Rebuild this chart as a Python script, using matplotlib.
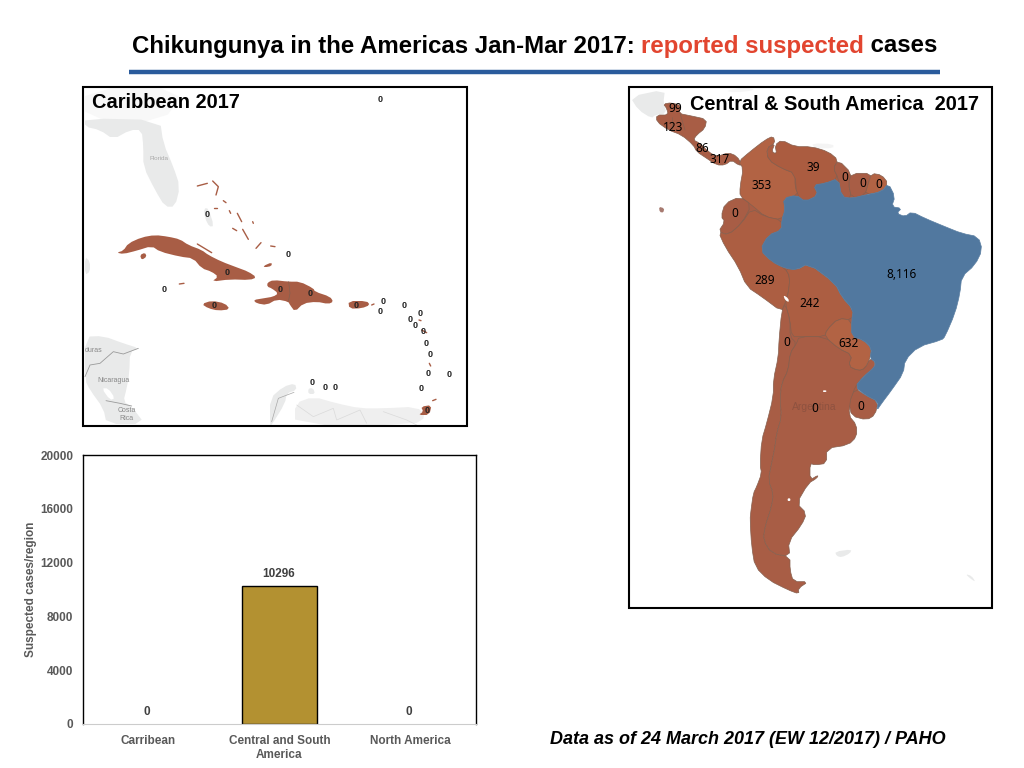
"""
Chikungunya in the Americas slide: two hand traced maps and one bar chart.
Map outlines are traced from 3x crops of the slide, see the crop helpers.
"""
import matplotlib
matplotlib.use('Agg')

import matplotlib.pyplot as plt
from matplotlib.patches import Polygon, Rectangle

plt.rcParams['font.family'] = ['Liberation Sans', 'DejaVu Sans']

# bar chart data
regions = ['Carribean', 'Central and South\nAmerica', 'North America']
region_cases = [0, 10296, 0]
y_ticks = [0, 4000, 8000, 12000, 16000, 20000]

# map labels
sa_labels = ['99', '123', '86', '317', '353', '39', '0', '0', '0', '0',
             '8,116', '289', '242', '0', '632']
sa_label_xy = [(150, 85), (145, 142), (232, 207), (285, 238), (410, 317), (565, 262),
               (659, 292), (713, 310), (762, 314), (330, 400), (830, 583), (420, 600),
               (555, 671), (485, 789), (670, 790)]
sa_labels_low = ['0', '0']
sa_label_low_xy = [(570, 205), (708, 200)]
carib_zero_west = [(381, 403), (442, 577), (252, 630), (402, 678)]
carib_zero_east = [(55, 73), (31, 179), (120, 191), (259, 225), (340, 216), (331, 245),
                   (402, 225), (451, 249), (419, 269), (435, 287), (459, 305), (468, 339),
                   (481, 373), (473, 430), (537, 433), (454, 475), (472, 542), (125, 457),
                   (166, 472), (194, 471)]

RUST = '#A85D45'
RUST_LIGHT = '#B26344'
BLUE = '#51789F'
GREY_LAND = '#E9EAEA'
BORDER = '#86604F'


def crop(x0, y0, pts):
    """Crop coordinates (3x) to slide pixels."""
    return [(x0 + x / 3, y0 + y / 3) for x, y in pts]


def sa(top, low=()):
    """South America outline from the upper and the lower crop."""
    return crop(625, 80, top) + crop(625, 340, low)


def west(pts):
    return crop(80, 80, pts)


def east(pts):
    return crop(270, 230, pts)


def smooth(pts):
    """One pass of corner cutting, takes the edge off the traced outlines."""
    out = []
    for i, (x0, y0) in enumerate(pts):
        x1, y1 = pts[(i + 1) % len(pts)]
        out.append((0.75 * x0 + 0.25 * x1, 0.75 * y0 + 0.25 * y1))
        out.append((0.25 * x0 + 0.75 * x1, 0.25 * y0 + 0.75 * y1))
    return out


fig = plt.figure(figsize=(10.24, 7.68), dpi=100)
ax = fig.add_axes([0, 0, 1, 1])
ax.set_xlim(0, 1024)
ax.set_ylim(768, 0)
ax.axis('off')


def land(pts, color=RUST, edge=BORDER, lw=0.5, z=2):
    ax.add_patch(Polygon(smooth(pts), closed=True, facecolor=color, edgecolor=edge, linewidth=lw, zorder=z))


def stroke(pts, color=RUST, lw=1.0, z=2):
    xs, ys = zip(*pts)
    ax.plot(xs, ys, color=color, linewidth=lw, zorder=z, solid_capstyle='round')


# ---- header ----
t1 = ax.text(132, 46, 'Chikungunya in the Americas Jan-Mar 2017: ', fontsize=17.3,
             fontweight='bold', color='black', va='center', ha='left')
t2 = ax.annotate('reported suspected', xy=(1, 0), xycoords=t1, fontsize=17.3, fontweight='bold',
                 color='#E2452F', va='bottom', ha='left')
ax.annotate(' cases', xy=(1, 0), xycoords=t2, fontsize=17.3, fontweight='bold',
            color='black', va='bottom', ha='left')
ax.plot([129, 940], [72, 72], color='#2A5B9C', linewidth=3.2, solid_capstyle='butt')

# ---- Central and South America map ----
land(sa([(15, 50), (120, 28), (115, 70), (125, 100), (90, 105), (80, 115), (40, 90)]),
     color=GREY_LAND, edge='none', z=1)
land(sa([(300, 32), (360, 22), (395, 30), (330, 38)]), color='#F6F6F6', edge='none', z=1)
land(sa([(560, 190), (625, 192), (625, 205), (570, 205)]), color='#F4F4F4', edge='none', z=1)
land(sa([], [(630, 635), (680, 628), (675, 640), (650, 652), (635, 648)]), color=GREY_LAND, edge='none', z=1)
land(sa([], [(1022, 702), (1040, 708), (1052, 726), (1035, 715)]), color=GREY_LAND, edge='none', z=1)

# backing inside the continent, closes the small gaps where smoothed countries meet
ax.add_patch(Polygon(sa([(370, 240), (470, 215), (600, 225), (680, 290), (770, 310), (760, 330), (600, 400),
                         (500, 500), (520, 600), (700, 700), (700, 770)],
                        [(700, 10), (725, 70), (700, 150), (660, 220), (620, 250), (480, 300), (470, 50)])
                     + sa([(480, 700), (420, 620), (360, 560), (310, 480), (310, 420), (350, 380), (360, 300)]),
                     closed=True, facecolor=RUST, edgecolor='none', zorder=1.8))

central_america = [(115, 72), (140, 68), (170, 78), (160, 100), (200, 108), (245, 118), (240, 145),
                   (215, 165), (205, 180), (225, 190), (250, 215), (275, 230), (310, 218), (335, 228),
                   (352, 255), (340, 255), (320, 240), (300, 255), (275, 255), (245, 235), (215, 215),
                   (205, 195), (170, 165), (130, 150), (95, 125), (95, 105), (130, 105), (125, 85)]
land(sa(central_america))
stroke(sa([(165, 100), (180, 150)]), BORDER, 0.5, 3)
stroke(sa([(140, 110), (140, 150)]), BORDER, 0.5, 3)

colombia = [(375, 215), (420, 180), (445, 168), (450, 190), (425, 205), (430, 240), (470, 265), (510, 280),
            (510, 320), (520, 345), (475, 355), (480, 390), (470, 420), (420, 410), (380, 375), (345, 350),
            (345, 320), (355, 265), (340, 245)]
venezuela = [(425, 205), (450, 190), (440, 215), (455, 222), (450, 195), (470, 180), (510, 200), (560, 200),
             (610, 215), (640, 240), (625, 265), (640, 295), (600, 310), (565, 315), (580, 345), (540, 365),
             (515, 345), (510, 280), (470, 265), (430, 240)]
guyana = [(625, 265), (640, 240), (680, 280), (670, 310), (680, 355), (650, 350), (640, 295)]
suriname = [(680, 280), (740, 280), (730, 310), (720, 345), (680, 355), (670, 310)]
fr_guiana = [(740, 280), (770, 285), (790, 310), (770, 335), (720, 345), (730, 310)]
ecuador = [(300, 370), (345, 350), (380, 375), (350, 430), (310, 465), (280, 455), (300, 425), (288, 410)]
peru = [(280, 455), (310, 465), (350, 430), (380, 385), (420, 410), (470, 420), (470, 450), (430, 465),
        (405, 510), (440, 545), (480, 565), (495, 590), (490, 640), (480, 670), (470, 695), (410, 650),
        (365, 620), (340, 560), (300, 500)]
bolivia = [(480, 565), (515, 570), (550, 550), (630, 610), (650, 650), (685, 690), (680, 720), (640, 715),
           (605, 750), (600, 770), (530, 770), (500, 770), (495, 720), (480, 670), (490, 640), (495, 590)]
land(sa(colombia), RUST_LIGHT)
land(sa(venezuela), '#AB5C40')
land(sa(guyana))
land(sa(suriname))
land(sa(fr_guiana), RUST_LIGHT)
land(sa(ecuador))
land(sa(peru), '#AC5E42')
land(sa(bolivia), '#AC5E42')

chile = sa([(470, 695), (480, 670), (495, 720), (495, 770)],
           [(515, 10), (495, 40), (490, 90), (470, 130), (465, 180), (470, 230), (455, 280), (450, 320),
            (440, 370), (430, 420), (445, 460), (440, 500), (420, 560), (415, 600), (440, 640), (495, 650),
            (495, 690), (505, 725), (550, 725), (520, 745), (522, 762), (490, 750), (430, 720), (390, 680),
            (380, 620), (375, 540), (378, 510), (385, 460), (395, 440), (410, 400), (405, 375), (410, 300),
            (425, 250), (445, 170), (445, 120), (460, 50), (462, 0)])
argentina = sa([], [(515, 10), (522, -10), (600, -10), (640, 25), (682, 45), (670, 78), (700, 92), (720, 85),
                    (735, 55), (750, 65), (748, 85), (715, 110), (690, 140), (680, 175), (670, 225), (695, 255),
                    (695, 290), (670, 315), (605, 325), (605, 370), (570, 375), (555, 370), (555, 420), (580, 405),
                    (575, 415), (550, 430), (515, 490), (545, 520), (530, 555), (490, 605), (495, 650), (440, 640),
                    (415, 600), (420, 560), (440, 500), (445, 460), (430, 420), (440, 370), (450, 320), (455, 280),
                    (470, 230), (465, 180), (470, 130), (490, 90), (495, 40)])
paraguay = sa([(605, 750), (640, 715), (680, 720), (680, 770)],
              [(715, 0), (740, 25), (735, 55), (720, 85), (700, 92), (670, 78), (682, 45), (640, 25), (600, -10)])
uruguay = sa([], [(690, 145), (720, 165), (760, 185), (750, 225), (725, 240), (680, 228), (672, 190)])
land(chile)
land(argentina)
land(paraguay, RUST_LIGHT)
land(uruguay)

brazil = sa([(475, 355), (515, 345), (540, 365), (580, 345), (565, 315), (600, 310), (640, 295), (650, 350),
             (680, 355), (720, 345), (770, 335), (790, 310), (810, 350), (800, 380), (830, 385), (815, 400),
             (840, 410), (860, 395), (900, 415), (960, 440), (1010, 460), (1060, 470), (1072, 510), (1050, 555),
             (1010, 590), (1005, 640), (990, 700), (960, 770)],
            [(950, 0), (880, 20), (840, 60), (835, 100), (800, 150), (770, 190), (755, 212), (760, 185),
             (720, 165), (690, 140), (715, 110), (750, 80), (750, 65), (735, 55), (740, 25), (715, 0)])
brazil += sa([(680, 770), (680, 720), (685, 690), (650, 650), (630, 610), (550, 550), (515, 570), (480, 565),
              (440, 545), (405, 510), (430, 465), (470, 450), (470, 420), (480, 390)])
land(brazil, BLUE, edge='#5B7FA2')

# small white lakes and the Galapagos
land(sa([(475, 645), (490, 655), (492, 667), (480, 660)]), 'white', 'none', z=3)
land(sa([], [(594, 151), (604, 151), (604, 156), (594, 156)]), 'white', 'none', z=3)
land(sa([], [(488, 475), (496, 475), (496, 483), (488, 483)]), 'white', 'none', z=3)
land(sa([(102, 380), (118, 385), (115, 398), (104, 396)]), '#A77A70', 'none', z=3)

ax.text(625 + 568 / 3, 340 + 200 / 3, 'Argentina', fontsize=7.5, color='#8E5240',
        ha='center', va='center', zorder=4)
for lab, pos in zip(sa_labels, crop(625, 80, sa_label_xy)):
    ax.text(pos[0], pos[1], lab, fontsize=8.5, family='Noto Sans', color='black', ha='center', va='center', zorder=5)
for lab, pos in zip(sa_labels_low, crop(625, 340, sa_label_low_xy)):
    ax.text(pos[0], pos[1], lab, fontsize=8.5, family='Noto Sans', color='black', ha='center', va='center', zorder=5)

ax.add_patch(Rectangle((629, 87), 363, 520.5, fill=False, edgecolor='black', linewidth=1.5, zorder=6))
ax.text(690, 104, 'Central & South America  2017', fontsize=14.3, fontweight='bold',
        ha='left', va='center', zorder=7)

# ---- Caribbean map ----
land(west([(15, 25), (320, 25), (245, 130), (15, 118)]), '#F8F8F8', 'none', z=1)
land(west([(15, 115), (240, 120), (250, 190), (280, 260), (300, 320), (285, 380), (255, 380), (225, 330),
           (190, 260), (190, 200), (185, 150), (150, 150), (100, 178), (60, 150), (15, 140)]),
     GREY_LAND, 'none', z=1)
land(west([(372, 385), (385, 385), (402, 438), (388, 440), (375, 415)]), GREY_LAND, 'none', z=1)
land(west([(15, 770), (70, 768), (130, 790), (178, 805), (150, 815), (148, 880), (140, 925), (130, 965), (155, 980),
           (195, 1032), (80, 1032), (70, 985), (30, 930), (15, 900)]), GREY_LAND, 'none', z=1)
land(west([(65, 925), (85, 925), (105, 955), (90, 960)]), 'white', 'none', z=1.5)
land(west([(15, 530), (30, 545), (30, 575), (15, 585)]), GREY_LAND, 'none', z=1)
stroke(west([(15, 890), (30, 855), (60, 850), (100, 815), (130, 822), (175, 805)]), '#9A9A9A', 0.6, 1.6)
stroke(west([(78, 962), (120, 970), (155, 978)]), '#9A9A9A', 0.6, 1.6)
land(east([(0, 505), (40, 470), (75, 460), (80, 480), (50, 490), (45, 520), (5, 585), (0, 585)]),
     GREY_LAND, 'none', z=1)
land(east([(75, 520), (130, 500), (200, 520), (270, 535), (340, 535), (440, 530), (470, 560), (430, 585), (75, 585)]),
     '#EFEFEF', 'none', z=1)
land(east([(115, 475), (130, 475), (135, 492), (115, 492)]), GREY_LAND, 'none', z=1)
stroke(east([(5, 575), (25, 505), (72, 487)]), '#A8A8A8', 0.5, 1.6)
stroke(east([(80, 525), (130, 560), (190, 535), (200, 570), (270, 540), (290, 580)]), '#DADADA', 0.5, 1.6)
stroke(east([(340, 545), (410, 570), (440, 585)]), '#DADADA', 0.5, 1.6)

cuba = [(110, 518), (130, 512), (145, 490), (185, 472), (225, 465), (265, 470), (300, 478), (325, 495), (365, 510),
        (385, 525), (425, 545), (470, 562), (505, 575), (530, 592), (510, 600), (450, 598), (395, 605), (415, 590),
        (395, 575), (365, 565), (340, 535), (300, 530), (240, 515), (215, 498), (170, 512), (130, 522)]
land(west(cuba), edge='none')
land(west([(180, 525), (195, 518), (200, 530), (185, 540)]), edge='none')
land(west([(365, 672), (395, 662), (435, 670), (450, 688), (415, 692), (385, 685)]), edge='none')
land(west([(550, 558), (575, 547), (575, 558), (555, 562)]), edge='none')
hispaniola = [(-8, 158), (10, 150), (55, 155), (90, 155), (130, 175), (135, 185), (180, 200), (190, 215), (175, 222),
              (140, 215), (100, 220), (75, 245), (60, 225), (55, 215), (20, 208), (-10, 225), (-40, 220), (-50, 210),
              (-20, 205), (10, 200), (25, 190), (5, 175), (-8, 170)]
land(east(hispaniola), edge='none')
stroke(east([(56, 155), (60, 190), (55, 215)]), BORDER, 0.5, 3)
land(east([(235, 213), (290, 213), (300, 225), (275, 235), (238, 236)]), edge='none')
land(east([(453, 530), (485, 525), (478, 555), (445, 555), (460, 545)]), edge='none')

# Bahamas, keys and the lesser islands
islets_west = [[(352, 318), (382, 310)], [(398, 303), (415, 320), (408, 345)], [(430, 362), (438, 368)],
               [(402, 384), (410, 384)], [(448, 392), (452, 400)], [(472, 400), (485, 425)], [(458, 445), (470, 452)],
               [(488, 448), (505, 478)], [(518, 425), (520, 430)], [(528, 505), (543, 488)], [(572, 498), (585, 500)],
               [(352, 492), (395, 518)], [(298, 612), (312, 610)]]
islets_east = [[(478, 400), (482, 408)], [(488, 512), (498, 508)], [(447, 270), (453, 272)], [(305, 225), (312, 222)],
               [(455, 300), (470, 308)]]
for pts in islets_west:
    stroke(west(pts), lw=1.0)
for pts in islets_east:
    stroke(east(pts), lw=1.0)

zero_pos = [(380, 99)] + west(carib_zero_west) + east(carib_zero_east)
for x, y in zero_pos:
    ax.text(x, y, '0', fontsize=6.5, fontweight='bold', color='#222222', ha='center', va='center', zorder=5)

ax.text(80 + 238 / 3, 80 + 235 / 3, 'Florida', fontsize=4.5, color='#AAAAAA', ha='center', va='center', zorder=4)
ax.text(80 + 40 / 3, 80 + 812 / 3, 'duras', fontsize=5, color='#888888', ha='center', va='center', zorder=4)
ax.text(80 + 100 / 3, 80 + 902 / 3, 'Nicaragua', fontsize=5, color='#888888', ha='center', va='center', zorder=4)
ax.text(80 + 140 / 3, 80 + 1004 / 3, 'Costa\nRica', fontsize=5, color='#888888', ha='center', va='center', zorder=4)
ax.add_patch(Rectangle((83, 87), 384, 339, fill=False, edgecolor='black', linewidth=1.5, zorder=6))
ax.text(92, 103, 'Caribbean 2017', fontsize=14.4, fontweight='bold', ha='left', va='center', zorder=7)

# ---- bar chart ----
bar_ax = fig.add_axes([83 / 1024, 1 - 724 / 768, 393 / 1024, 269 / 768])
bars = bar_ax.bar(range(3), region_cases, width=0.567, color='#B39131', edgecolor='black', linewidth=1.0)
for b, v in zip(bars, region_cases):
    if v == 0:
        b.set_linewidth(0)
bar_ax.set_xlim(-0.5, 2.5)
bar_ax.set_ylim(0, 20000)
bar_ax.set_yticks(y_ticks)
bar_ax.set_xticks(range(3))
bar_ax.set_xticklabels(regions)
bar_ax.tick_params(length=0, labelcolor='#595959', labelsize=8.5, pad=8)
bar_ax.tick_params(axis='y', pad=7)
for lab in bar_ax.get_xticklabels() + bar_ax.get_yticklabels():
    lab.set_fontweight('bold')
bar_ax.set_ylabel('Suspected cases/region', fontsize=8.5, fontweight='bold', color='#595959', labelpad=2)
bar_ax.spines['bottom'].set_color('#CCCCCC')
for name in ['left', 'top', 'right']:
    bar_ax.spines[name].set_linewidth(1.0)
for i, v in enumerate(region_cases):
    bar_ax.text(i - 0.01, v + 420, str(v), fontsize=8.5, fontweight='bold', color='#404040',
                ha='center', va='bottom')

ax.text(550, 740, 'Data as of 24 March 2017 (EW 12/2017) / PAHO', fontsize=12.95, fontweight='bold',
        fontstyle='italic', ha='left', va='center')

fig.savefig('out.png', dpi=100)
